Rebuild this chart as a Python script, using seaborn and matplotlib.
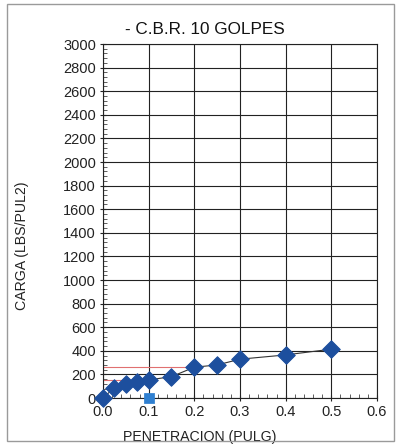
import matplotlib
matplotlib.use("Agg")
import matplotlib.pyplot as plt
from matplotlib.patches import Rectangle
from matplotlib.ticker import MultipleLocator, FormatStrFormatter
import seaborn as sns
import pandas as pd

# CBR test, 10 blows: penetration (in) vs load (lb/in2)
penetracion = [0.0, 0.025, 0.05, 0.075, 0.1, 0.15, 0.2, 0.25, 0.3, 0.4, 0.5]
carga = [0, 88, 119, 133, 153, 181, 261, 280, 329, 365, 414]

# corrected zero point
corr_x = [0.1]
corr_y = [0]

# reference loads read at 0.1 and 0.2 in
ref_pen = [0.1, 0.2]
ref_carga = [153, 261]

sns.set_style("white")
plt.rcParams["font.family"] = ["Liberation Sans", "DejaVu Sans"]

W, H = 402, 445
fig = plt.figure(figsize=(W / 100, H / 100), dpi=100)
fig.patches.append(Rectangle((7 / W, 4 / H), 387 / W, 437 / H, transform=fig.transFigure,
                             fill=False, edgecolor="#9a9a9a", linewidth=1.0))
ax = fig.add_axes([103 / W, 1 - 398 / H, 274 / W, 354 / H])

df = pd.DataFrame({"pen": penetracion, "carga": carga})

for px, py in zip(ref_pen, ref_carga):
    ax.plot([0, px], [py, py], color="#e07070", linewidth=0.8, zorder=2)

sns.lineplot(data=df, x="pen", y="carga", ax=ax, color="#333333", linewidth=0.8,
             zorder=3, estimator=None, sort=False)
sns.scatterplot(data=df, x="pen", y="carga", ax=ax, marker="D", s=80,
                color="#1d4f9e", edgecolor="#1d4f9e", zorder=4)
sns.scatterplot(x=corr_x, y=corr_y, ax=ax, marker="s", s=45,
                color="#2f7fd0", edgecolor="#2f7fd0", zorder=4)

ax.set_xlim(0, 0.6)
ax.set_ylim(0, 3000)
ax.xaxis.set_major_locator(MultipleLocator(0.1))
ax.xaxis.set_minor_locator(MultipleLocator(0.02))
ax.yaxis.set_major_locator(MultipleLocator(200))
ax.yaxis.set_minor_locator(MultipleLocator(40))
ax.xaxis.set_major_formatter(FormatStrFormatter("%.1f"))
ax.grid(True, which="major", color="#222222", linewidth=0.8)
for c in ax.collections:
    c.set_clip_on(False)
ax.tick_params(axis="both", which="major", labelsize=10.5, length=4, direction="inout",
               color="#222222", labelcolor="#222222", pad=3)
ax.tick_params(axis="both", which="minor", length=3, direction="in", color="#444444")
ax.tick_params(bottom=True, left=True, which="both")
for s in ax.spines.values():
    s.set_color("#222222")
    s.set_linewidth(0.8)

ax.set_xlabel("PENETRACION (PULG)", fontsize=10.2, color="#222222")
ax.set_ylabel("CARGA (LBS/PUL2)", fontsize=10.2, color="#222222")
# label positions in figure pixels
ax.xaxis.set_label_coords(200 / W, 1 - 437 / H, transform=fig.transFigure)
ax.xaxis.label.set_va("center")
ax.yaxis.set_label_coords(22 / W, 1 - 246 / H, transform=fig.transFigure)
ax.yaxis.label.set_va("center")
fig.text(205 / W, 1 - 30 / H, "- C.B.R. 10 GOLPES", fontsize=12.3, color="#111111",
         ha="center", va="center")

fig.savefig("out.png", dpi=100)
